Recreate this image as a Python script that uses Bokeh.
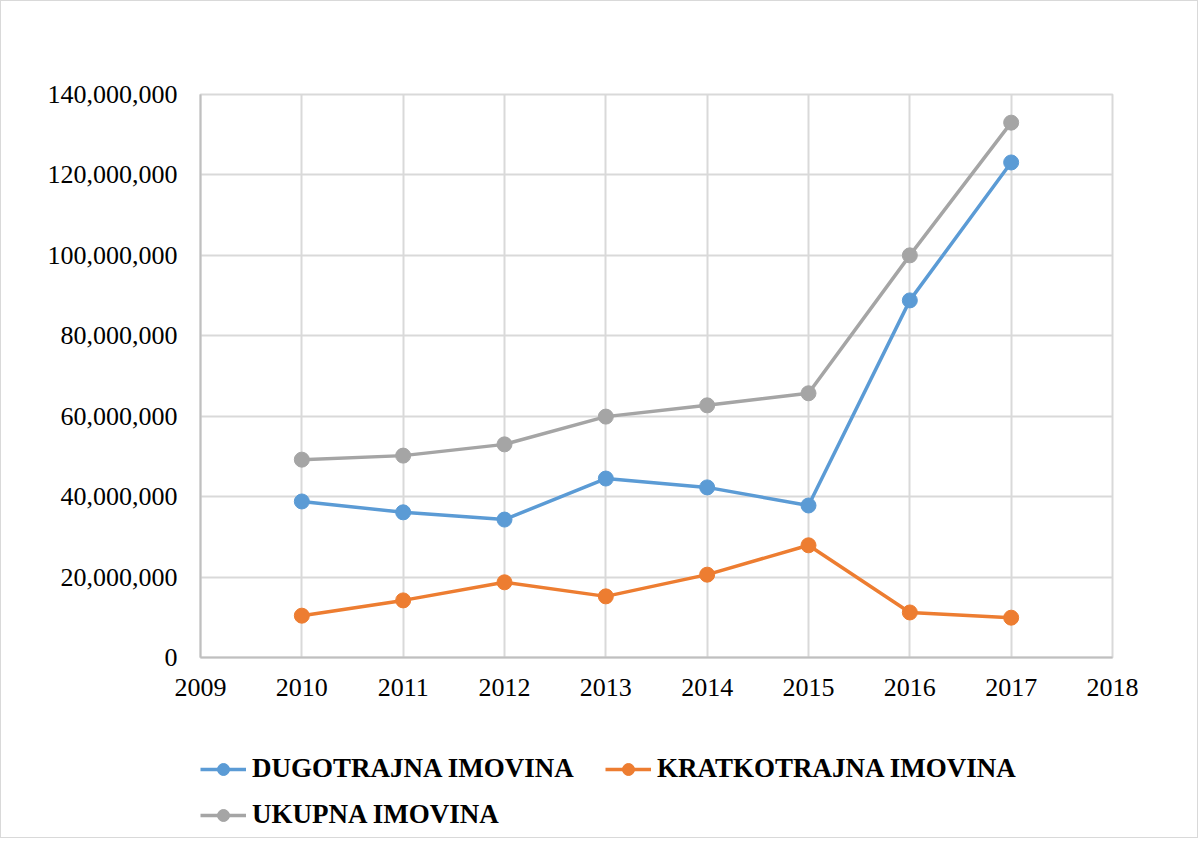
from bokeh.plotting import figure
from bokeh.layouts import column
from bokeh.models import Legend, LegendItem, NumeralTickFormatter, FixedTicker, Range1d
from bokeh.embed import file_html
from bokeh.resources import INLINE

years = [2010, 2011, 2012, 2013, 2014, 2015, 2016, 2017]
dugotrajna = [38.8e6, 36.1e6, 34.3e6, 44.5e6, 42.3e6, 37.8e6, 88.8e6, 123.1e6]
kratkotrajna = [10.4e6, 14.2e6, 18.7e6, 15.2e6, 20.6e6, 27.9e6, 11.2e6, 9.9e6]
ukupna = [49.2e6, 50.2e6, 53.0e6, 59.9e6, 62.7e6, 65.7e6, 100.0e6, 133.0e6]
names = ["DUGOTRAJNA IMOVINA", "KRATKOTRAJNA IMOVINA", "UKUPNA IMOVINA"]
colors = ["#5B9BD5", "#ED7D31", "#A5A5A5"]
x_ticks = list(range(2009, 2019))
y_ticks = list(range(0, 140000001, 20000000))

FONT = "Liberation Serif"
W = 1196

p = figure(width=W, height=706, output_backend="svg", toolbar_location=None,
           x_range=Range1d(2009, 2018), y_range=Range1d(0, 140e6),
           min_border_left=199, min_border_right=85, min_border_top=93,
           min_border_bottom=50)

p.xaxis.ticker = FixedTicker(ticks=x_ticks)
p.yaxis.ticker = FixedTicker(ticks=y_ticks)
p.yaxis.formatter = NumeralTickFormatter(format="0,0")
for ax in (p.xaxis[0], p.yaxis[0]):
    ax.major_tick_line_color = None
    ax.minor_tick_line_color = None
    ax.axis_line_color = "#bfbfbf"
    ax.axis_line_width = 2
    ax.major_label_text_font = FONT
    ax.major_label_text_font_size = "26px"
    ax.major_label_text_color = "#000000"
p.xaxis.major_label_standoff = 15
p.yaxis.major_label_standoff = 17

p.xgrid.grid_line_color = "#d9d9d9"
p.ygrid.grid_line_color = "#d9d9d9"
p.xgrid.grid_line_width = 2
p.ygrid.grid_line_width = 2
p.outline_line_color = "#d9d9d9"
p.outline_line_width = 2

for vals, c in zip([dugotrajna, kratkotrajna, ukupna], colors):
    p.line(years, vals, line_color=c, line_width=3.5)
    p.scatter(years, vals, size=15, fill_color=c, line_color=c)

# legend strip below the chart
lg = figure(width=W, height=130, output_backend="svg", toolbar_location=None,
            x_range=Range1d(0, 1), y_range=Range1d(0, 1),
            min_border_left=0, min_border_right=0, min_border_top=0,
            min_border_bottom=0)
lg.axis.visible = False
lg.grid.visible = False
lg.outline_line_color = None

items = {}
for name, c in zip(names, colors):
    l = lg.line([-5, -4], [-5, -4], line_color=c, line_width=3.5)
    s = lg.scatter([-5], [-5], size=15, fill_color=c, line_color=c)
    items[name] = LegendItem(label=name, renderers=[l, s])

# column-major fill: col1 = DUGOTRAJNA, UKUPNA; col2 = KRATKOTRAJNA
order = [names[0], names[2], names[1]]
legend = Legend(items=[items[n] for n in order], ncols=2, location=(0, 7),
                label_text_font=FONT, label_text_font_size="27px",
                label_text_font_style="bold", label_text_color="#000000",
                glyph_width=46, glyph_height=30, label_height=30,
                label_width=338, spacing=15,
                label_standoff=6, border_line_color=None,
                background_fill_alpha=0, padding=0, margin=0)
lg.add_layout(legend, "center")

layout = column(p, lg, spacing=0, styles={"border": "1px solid #d9d9d9"})

open("out.html", "w").write(file_html(layout, INLINE))
